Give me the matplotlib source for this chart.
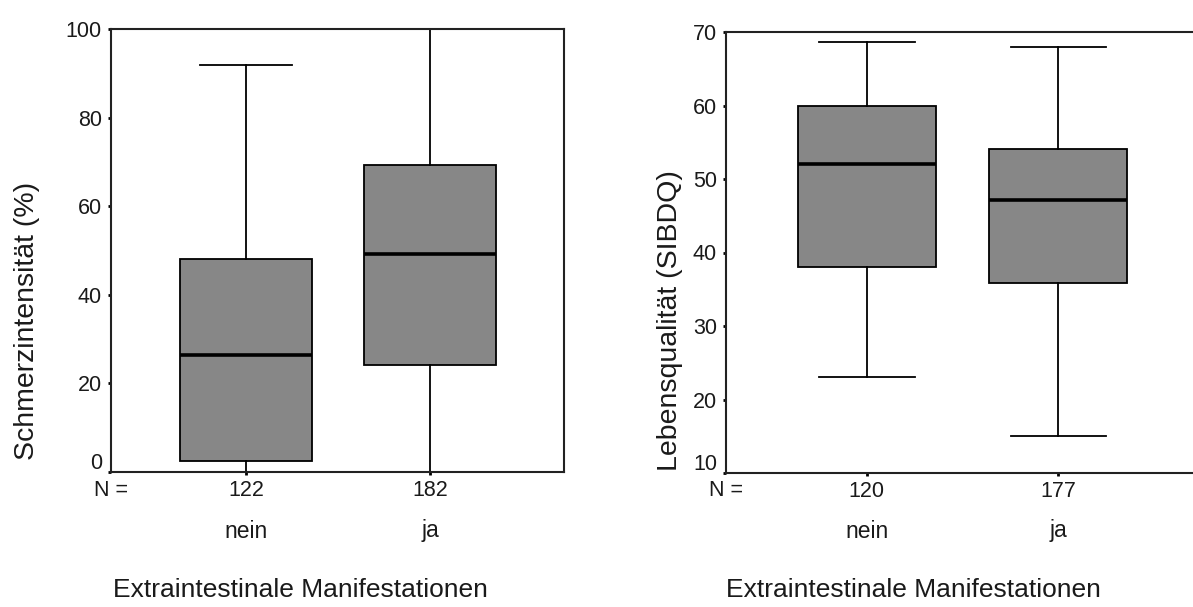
import matplotlib
matplotlib.use("Agg")
import matplotlib.pyplot as plt
import matplotlib.transforms as mtransforms

plt.rcParams['font.family'] = ['Liberation Sans', 'DejaVu Sans']

# ---- data ----
categories = ['nein', 'ja']

left_n = [122, 182]
left_whislo = [0.0, 0.0]
left_q1 = [2.4, 24.1]
left_med = [26.3, 49.2]
left_q3 = [48.0, 69.3]
left_whishi = [91.9, 100.0]
left_yticks = [0, 20, 40, 60, 80, 100]
left_ylabel = 'Schmerzintensität (%)'

right_n = [120, 177]
right_whislo = [23.1, 15.1]
right_q1 = [38.0, 35.9]
right_med = [52.0, 47.2]
right_q3 = [60.0, 54.1]
right_whishi = [68.7, 67.9]
right_yticks = [10, 20, 30, 40, 50, 60, 70]
right_ylabel = 'Lebensqualität (SIBDQ)'

xlabel = 'Extraintestinale Manifestationen'

W, H = 1193, 607
fig = plt.figure(figsize=(W / 100, H / 100), dpi=100)

BOX_COLOR = '#878787'
TXT = '#1a1a1a'


def make_panel(rect, n, wlo, q1, med, q3, whi, yticks, ylabel, show_right,
               ylab_x, ylab_y):
    ax = fig.add_axes(rect)
    stats = []
    for i in range(len(categories)):
        stats.append(dict(whislo=wlo[i], q1=q1[i], med=med[i], q3=q3[i],
                          whishi=whi[i], fliers=[], label=str(n[i])))
    pos = list(range(1, len(categories) + 1))
    ax.bxp(stats, positions=pos, widths=0.72, patch_artist=True,
           showfliers=False,
           boxprops=dict(facecolor=BOX_COLOR, edgecolor='black', linewidth=1.3),
           medianprops=dict(color='black', linewidth=2.6, solid_capstyle='butt'),
           whiskerprops=dict(color='black', linewidth=1.3),
           capprops=dict(color='black', linewidth=1.3),
           capwidths=0.5)
    ax.set_xlim(0.266, 2.728)
    ax.set_ylim(yticks[0], yticks[-1])
    ax.set_yticks(yticks)
    ax.set_yticklabels([str(t) for t in yticks])
    ax.set_xticks(pos)
    ax.set_xticklabels([str(v) for v in n])
    for s in ['left', 'bottom', 'top', 'right']:
        ax.spines[s].set_linewidth(1.5)
        ax.spines[s].set_color('#222222')
    ax.spines['right'].set_visible(show_right)
    ax.tick_params(axis='both', length=2.5, width=2, color='black',
                   labelsize=15.5, labelcolor=TXT)
    ax.tick_params(axis='y', pad=4)
    ax.tick_params(axis='x', pad=3)
    # bottom y-label sits slightly above its tick
    labs = ax.get_yticklabels()
    off = mtransforms.ScaledTranslation(0, 11 / 100, fig.dpi_scale_trans)
    labs[0].set_transform(labs[0].get_transform() + off)
    ax.set_ylabel(ylabel, fontsize=20.5, color=TXT)
    ax.yaxis.set_label_coords(ylab_x, ylab_y)
    trans = mtransforms.blended_transform_factory(ax.transData, fig.transFigure)
    for p, c in zip(pos, categories):
        ax.text(p, (H - 531) / H, c, transform=trans, ha='center', va='center',
                fontsize=16.5, color=TXT)
    trans2 = mtransforms.blended_transform_factory(ax.transAxes, fig.transFigure)
    ax.text(0.0, (H - 491) / H, 'N =', transform=trans2, ha='center', va='center',
            fontsize=15.5, color=TXT)
    return ax


axL = make_panel([111 / W, (H - 472) / H, 453 / W, 443 / H],
                 left_n, left_whislo, left_q1, left_med, left_q3, left_whishi,
                 left_yticks, left_ylabel, True, -0.157, 0.34)
axR = make_panel([726 / W, (H - 473) / H, 472 / W, 441 / H],
                 right_n, right_whislo, right_q1, right_med, right_q3, right_whishi,
                 right_yticks, right_ylabel, False, -0.092, 0.345)

fig.text(300 / W, (H - 590) / H, xlabel, ha='center', va='center',
         fontsize=19, color=TXT)
fig.text(913 / W, (H - 590) / H, xlabel, ha='center', va='center',
         fontsize=19, color=TXT)

fig.savefig('out.png', dpi=100, facecolor='white')
